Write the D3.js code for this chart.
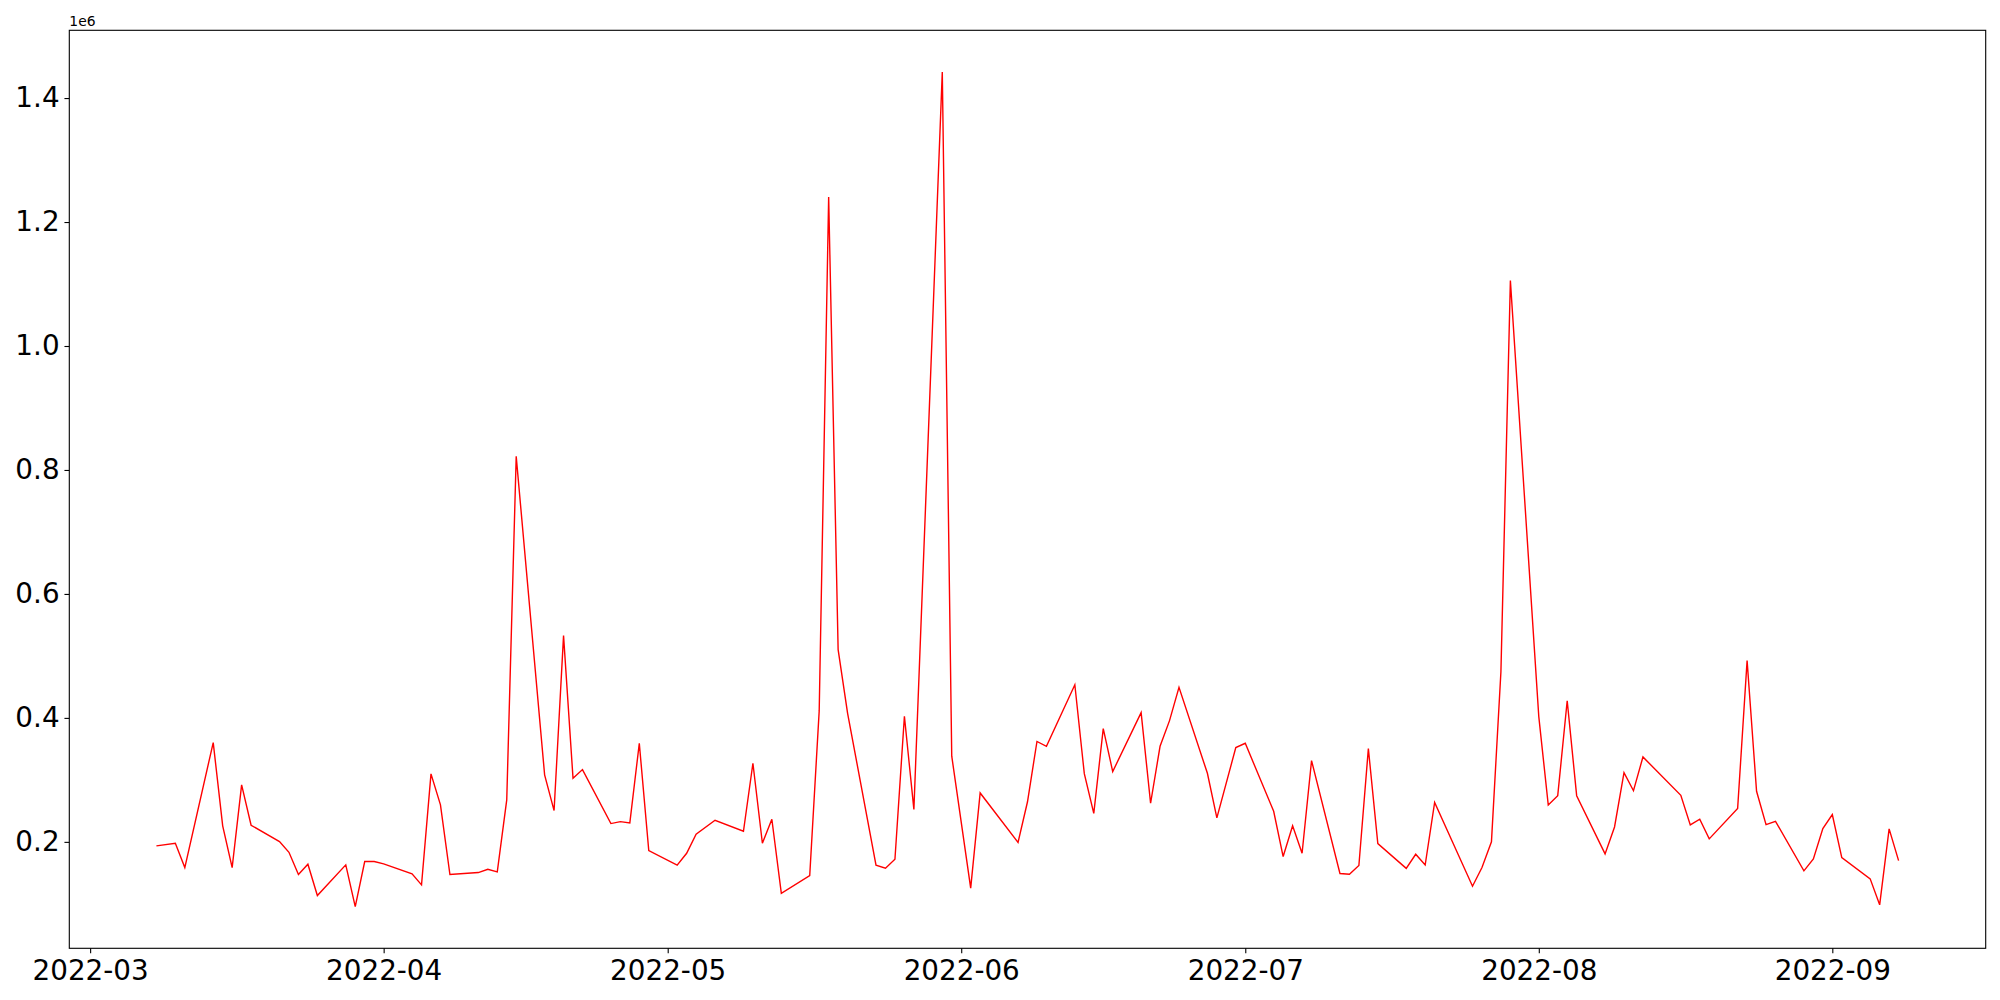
<!DOCTYPE html>
<html>
<head>
<meta charset="utf-8">
<script src="https://cdn.jsdelivr.net/npm/d3@7"></script>
<style>
  body { margin: 0; background: #fff; }
  text { font-family: "DejaVu Sans", sans-serif; fill: #000; }
</style>
</head>
<body>
<div id="chart"></div>
<script>
/**
 * DATA
 * */
const dates = [
  "2022-03-08", "2022-03-10", "2022-03-11", "2022-03-14", "2022-03-15", "2022-03-16", "2022-03-17", "2022-03-18",
  "2022-03-21", "2022-03-22", "2022-03-23", "2022-03-24", "2022-03-25", "2022-03-28", "2022-03-29", "2022-03-30",
  "2022-03-31", "2022-04-01", "2022-04-04", "2022-04-05", "2022-04-06", "2022-04-07", "2022-04-08", "2022-04-11",
  "2022-04-12", "2022-04-13", "2022-04-14", "2022-04-15", "2022-04-18", "2022-04-19", "2022-04-20", "2022-04-21",
  "2022-04-22", "2022-04-25", "2022-04-26", "2022-04-27", "2022-04-28", "2022-04-29", "2022-05-02", "2022-05-03",
  "2022-05-04", "2022-05-06", "2022-05-09", "2022-05-10", "2022-05-11", "2022-05-12", "2022-05-13", "2022-05-16",
  "2022-05-17", "2022-05-18", "2022-05-19", "2022-05-20", "2022-05-23", "2022-05-24", "2022-05-25", "2022-05-26",
  "2022-05-27", "2022-05-30", "2022-05-31", "2022-06-02", "2022-06-03", "2022-06-07", "2022-06-08", "2022-06-09",
  "2022-06-10", "2022-06-13", "2022-06-14", "2022-06-15", "2022-06-16", "2022-06-17", "2022-06-20", "2022-06-21",
  "2022-06-22", "2022-06-23", "2022-06-24", "2022-06-27", "2022-06-28", "2022-06-30", "2022-07-01",
  "2022-07-04", "2022-07-05", "2022-07-06", "2022-07-07", "2022-07-08", "2022-07-11", "2022-07-12", "2022-07-13",
  "2022-07-14", "2022-07-15", "2022-07-18", "2022-07-19", "2022-07-20", "2022-07-21", "2022-07-25", "2022-07-26",
  "2022-07-27", "2022-07-28", "2022-07-29", "2022-08-01", "2022-08-02", "2022-08-03", "2022-08-04", "2022-08-05",
  "2022-08-08", "2022-08-09", "2022-08-10", "2022-08-11", "2022-08-12", "2022-08-16", "2022-08-17", "2022-08-18",
  "2022-08-19", "2022-08-22", "2022-08-23", "2022-08-24", "2022-08-25", "2022-08-26", "2022-08-29", "2022-08-30",
  "2022-08-31", "2022-09-01", "2022-09-02", "2022-09-05", "2022-09-06", "2022-09-07", "2022-09-08"
];

const values = [
  193500, 197700, 158500, 360200, 225800, 158500, 291900, 226800,
  200500, 183200, 147300, 163900, 113400, 162900, 95600, 168200,
  168200, 164500, 148400, 130600, 309700, 259700, 147300, 150500,
  155800, 151600, 267700, 821900, 308100, 250500, 532700, 302600,
  316600, 229500, 232700, 230600, 359000, 186000, 162300, 181600,
  212300, 234800, 217100, 326800, 197700, 236500, 117100, 145500,
  411300, 1240300, 510200, 407400, 162400, 157600, 172000, 402600,
  252300, 1442000, 338200, 125300, 278900, 199000, 264700, 362000,
  354000, 453400, 310000, 246000, 382700, 313400, 408500, 262300,
  354200, 395600, 449400, 310600, 238700, 352100, 359000,
  249400, 176300, 225800, 181600, 331100, 148900, 147800, 161800,
  350500, 197300, 157300, 180000, 162700, 263500, 128400, 158700,
  200000, 474500, 1105500, 402100, 259400, 274500, 427600, 274500,
  180600, 224000, 311800, 282500, 337000, 275000, 227400, 236500,
  204800, 253700, 492400, 281600, 227900, 233200, 153200, 172600,
  221500, 244000, 174700, 140300, 98400, 221000, 169800
];

const xTickMonths = ["2022-03", "2022-04", "2022-05", "2022-06", "2022-07", "2022-08", "2022-09"];
const yTicks = [200000, 400000, 600000, 800000, 1000000, 1200000, 1400000];

/**
 * CONSTANTS
 * */
const width = 2000,
  height = 1000,
  margin = { top: 30.3, right: 14.3, bottom: 51.7, left: 69.3 };
const tickLen = 4.86, tickPad = 4.86, labelSize = 27.8;

const parseDay = d3.timeParse("%Y-%m-%d"),
  parseMonth = d3.timeParse("%Y-%m");

const data = dates.map((d, i) => ({ date: parseDay(d), value: values[i] }));

// matplotlib-like autoscale: 5% padding on each side
const [t0, t1] = d3.extent(data, d => d.date);
const tPad = (t1 - t0) * 0.05;
const [v0, v1] = d3.extent(data, d => d.value);
const vPad = (v1 - v0) * 0.05;

const x = d3.scaleTime()
  .domain([new Date(+t0 - tPad), new Date(+t1 + tPad)])
  .range([margin.left, width - margin.right]);

const y = d3.scaleLinear()
  .domain([v0 - vPad, v1 + vPad])
  .range([height - margin.bottom, margin.top]);

const svg = d3.select("#chart")
  .append("svg")
  .attr("width", width)
  .attr("height", height);

// the line
svg.append("path")
  .datum(data)
  .attr("fill", "none")
  .attr("stroke", "#ff0000")
  .attr("stroke-width", 1.4)
  .attr("stroke-linejoin", "miter")
  .attr("d", d3.line().x(d => x(d.date)).y(d => y(d.value)));

// x axis
const xAxis = svg.append("g")
  .attr("transform", `translate(0,${height - margin.bottom})`)
  .call(d3.axisBottom(x)
    .tickValues(xTickMonths.map(parseMonth))
    .tickFormat(d3.timeFormat("%Y-%m"))
    .tickSize(tickLen)
    .tickPadding(tickPad));
xAxis.select(".domain").remove();
xAxis.selectAll(".tick line").attr("stroke", "#000").attr("stroke-width", 1.1);
xAxis.selectAll(".tick text")
  .attr("font-size", labelSize)
  .attr("font-family", "DejaVu Sans")
  .attr("dy", "0.78em");

// y axis
const yAxis = svg.append("g")
  .attr("transform", `translate(${margin.left},0)`)
  .call(d3.axisLeft(y)
    .tickValues(yTicks)
    .tickFormat(d => (d / 1e6).toFixed(1))
    .tickSize(tickLen)
    .tickPadding(tickPad));
yAxis.select(".domain").remove();
yAxis.selectAll(".tick line").attr("stroke", "#000").attr("stroke-width", 1.1);
yAxis.selectAll(".tick text")
  .attr("font-size", labelSize)
  .attr("font-family", "DejaVu Sans");

// frame
svg.append("rect")
  .attr("x", margin.left)
  .attr("y", margin.top)
  .attr("width", width - margin.left - margin.right)
  .attr("height", height - margin.top - margin.bottom)
  .attr("fill", "none")
  .attr("stroke", "#000")
  .attr("stroke-width", 1.1);

// offset text
svg.append("text")
  .attr("x", margin.left)
  .attr("y", margin.top - 4.5)
  .attr("font-size", 13.9)
  .text("1e6");
</script>
</body>
</html>
